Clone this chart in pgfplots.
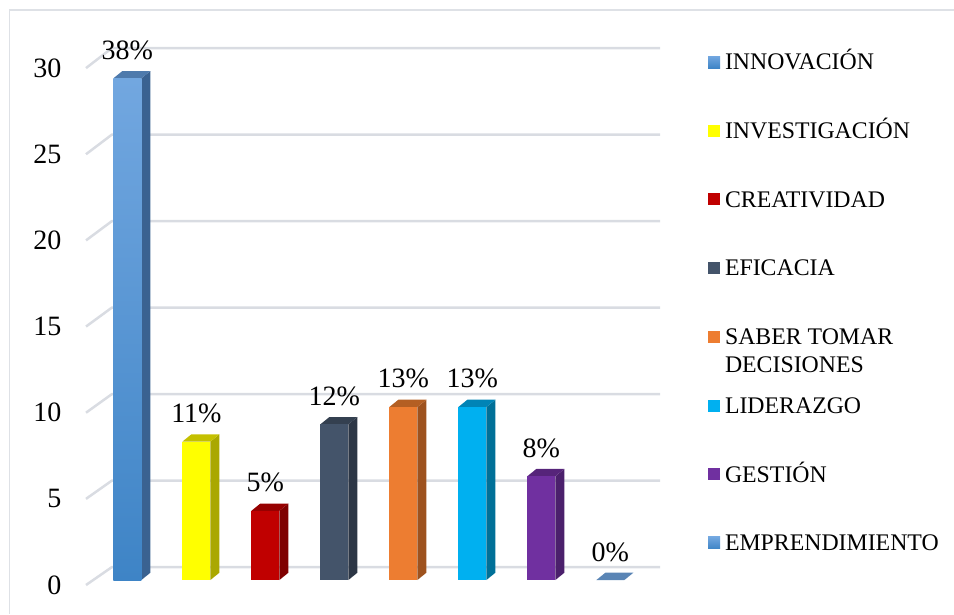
\documentclass[border=0pt]{standalone}
\usepackage{fontspec}
\setmainfont{Liberation Serif}
\usepackage{pgfplots}
\pgfplotsset{compat=1.18}
\definecolor{gridc}{RGB}{217,220,226}
\definecolor{bordc}{RGB}{222,225,230}
\definecolor{bluetop}{RGB}{114,167,224}
\definecolor{bluebot}{RGB}{62,132,198}
\definecolor{blueside}{RGB}{58,98,145}
\definecolor{bluecap}{RGB}{78,122,172}
\definecolor{ylw}{RGB}{255,255,0}
\definecolor{ylwside}{RGB}{170,168,0}
\definecolor{ylwcap}{RGB}{196,192,0}
\definecolor{rd}{RGB}{192,0,0}
\definecolor{rdside}{RGB}{127,0,0}
\definecolor{rdcap}{RGB}{150,0,0}
\definecolor{sl}{RGB}{68,84,106}
\definecolor{slside}{RGB}{44,54,69}
\definecolor{slcap}{RGB}{52,64,80}
\definecolor{org}{RGB}{237,125,49}
\definecolor{orgside}{RGB}{158,82,30}
\definecolor{orgcap}{RGB}{180,95,35}
\definecolor{cy}{RGB}{0,176,240}
\definecolor{cyside}{RGB}{0,112,152}
\definecolor{cycap}{RGB}{0,132,182}
\definecolor{pu}{RGB}{112,48,160}
\definecolor{puside}{RGB}{75,32,108}
\definecolor{pucap}{RGB}{86,36,122}
\definecolor{embcap}{RGB}{90,133,181}
\begin{document}
\begin{tikzpicture}
\useasboundingbox (0,0) rectangle (954pt,614pt);
\draw[bordc, line width=1.5pt] (9.5pt,0pt) -- (9.5pt,604pt) -- (954pt,604pt);
\begin{axis}[
  at={(86pt,16.7pt)}, anchor=south west,
  x=69pt, y=17.3pt,
  xmin=0.4, xmax=8.75, ymin=-1, ymax=31.5,
  clip=false,
  axis line style={draw=none},
  xtick=\empty,
  ytick={-0.29,4.69,9.67,14.65,19.63,24.61,29.59},
  yticklabels={0,5,10,15,20,25,30},
  ytick style={draw=none},
  major tick length=0pt,
  /pgf/number format/assume math mode=true,
  yticklabel style={font=\fontsize{28}{31}\selectfont, anchor=east, inner sep=0pt, xshift=-24.5pt},
  legend cell align=left,
  legend image code/.code={\fill[#1] (0pt,-4.2pt) rectangle (12pt,7.8pt);},
  legend style={at={(1.0796,0.9684)}, anchor=north west, draw=none, fill=none,
    inner sep=0pt, outer sep=0pt, row sep=46.7pt, column sep=5pt,
    font=\fontsize{23.8}{27.7}\selectfont,
    nodes={inner sep=0pt, text height=17pt, text depth=5pt, anchor=west}},
]
% back-wall gridlines with floor diagonals
\addplot[gridc, line width=2.5pt, line join=round, forget plot] coordinates {(0.4,-0.29) (0.777,0.75) (8.72,0.75)};
\addplot[gridc, line width=2.5pt, line join=round, forget plot] coordinates {(0.4,4.69) (0.777,5.75) (8.72,5.75)};
\addplot[gridc, line width=2.5pt, line join=round, forget plot] coordinates {(0.4,9.67) (0.777,10.75) (8.72,10.75)};
\addplot[gridc, line width=2.5pt, line join=round, forget plot] coordinates {(0.4,14.65) (0.777,15.75) (8.72,15.75)};
\addplot[gridc, line width=2.5pt, line join=round, forget plot] coordinates {(0.4,19.63) (0.777,20.75) (8.72,20.75)};
\addplot[gridc, line width=2.5pt, line join=round, forget plot] coordinates {(0.4,24.61) (0.777,25.75) (8.72,25.75)};
\addplot[gridc, line width=2.5pt, line join=round, forget plot] coordinates {(0.4,29.59) (0.777,30.75) (8.72,30.75)};
% 1 INNOVACION (29)
\addplot[fill=blueside, draw=none, forget plot] coordinates {(1.203,0) (1.333,0.42) (1.333,29.42) (1.203,29)};
\addplot[fill=bluecap, draw=none, forget plot] coordinates {(0.797,29) (1.203,29) (1.333,29.42) (0.927,29.42)};
\addplot[top color=bluetop, bottom color=bluebot, draw=none] coordinates {(0.797,0) (1.203,0) (1.203,29) (0.797,29)};
\addlegendentry{INNOVACIÓN}
% 2 INVESTIGACION (8)
\addplot[fill=ylwside, draw=none, forget plot] coordinates {(2.203,0) (2.333,0.42) (2.333,8.42) (2.203,8)};
\addplot[fill=ylwcap, draw=none, forget plot] coordinates {(1.797,8) (2.203,8) (2.333,8.42) (1.927,8.42)};
\addplot[fill=ylw, draw=none] coordinates {(1.797,0) (2.203,0) (2.203,8) (1.797,8)};
\addlegendentry{INVESTIGACIÓN}
% 3 CREATIVIDAD (4)
\addplot[fill=rdside, draw=none, forget plot] coordinates {(3.203,0) (3.333,0.42) (3.333,4.42) (3.203,4)};
\addplot[fill=rdcap, draw=none, forget plot] coordinates {(2.797,4) (3.203,4) (3.333,4.42) (2.927,4.42)};
\addplot[fill=rd, draw=none] coordinates {(2.797,0) (3.203,0) (3.203,4) (2.797,4)};
\addlegendentry{CREATIVIDAD}
% 4 EFICACIA (9)
\addplot[fill=slside, draw=none, forget plot] coordinates {(4.203,0) (4.333,0.42) (4.333,9.42) (4.203,9)};
\addplot[fill=slcap, draw=none, forget plot] coordinates {(3.797,9) (4.203,9) (4.333,9.42) (3.927,9.42)};
\addplot[fill=sl, draw=none] coordinates {(3.797,0) (4.203,0) (4.203,9) (3.797,9)};
\addlegendentry{EFICACIA}
% 5 SABER TOMAR DECISIONES (10)
\addplot[fill=orgside, draw=none, forget plot] coordinates {(5.203,0) (5.333,0.42) (5.333,10.42) (5.203,10)};
\addplot[fill=orgcap, draw=none, forget plot] coordinates {(4.797,10) (5.203,10) (5.333,10.42) (4.927,10.42)};
\addplot[fill=org, draw=none] coordinates {(4.797,0) (5.203,0) (5.203,10) (4.797,10)};
\addlegendentry{\begin{tabular}[t]{@{}l@{}}SABER TOMAR\\DECISIONES\end{tabular}}
% 6 LIDERAZGO (10)
\addplot[fill=cyside, draw=none, forget plot] coordinates {(6.203,0) (6.333,0.42) (6.333,10.42) (6.203,10)};
\addplot[fill=cycap, draw=none, forget plot] coordinates {(5.797,10) (6.203,10) (6.333,10.42) (5.927,10.42)};
\addplot[fill=cy, draw=none] coordinates {(5.797,0) (6.203,0) (6.203,10) (5.797,10)};
\addlegendentry{LIDERAZGO}
% 7 GESTION (6)
\addplot[fill=puside, draw=none, forget plot] coordinates {(7.203,0) (7.333,0.42) (7.333,6.42) (7.203,6)};
\addplot[fill=pucap, draw=none, forget plot] coordinates {(6.797,6) (7.203,6) (7.333,6.42) (6.927,6.42)};
\addplot[fill=pu, draw=none] coordinates {(6.797,0) (7.203,0) (7.203,6) (6.797,6)};
\addlegendentry{GESTIÓN}
% 8 EMPRENDIMIENTO (0)
\addplot[fill=embcap, draw=none, forget plot] coordinates {(7.797,0) (8.203,0) (8.333,0.42) (7.927,0.42)};
\addplot[top color=bluetop, bottom color=bluebot, draw=none] coordinates {(7.797,0) (8.203,0) (8.203,0) (7.797,0)};
\addlegendentry{EMPRENDIMIENTO}
% data labels
\addplot[draw=none, mark=none, forget plot, nodes near coords, point meta=explicit symbolic,
  nodes near coords style={anchor=base, yshift=19pt, inner sep=0pt, font=\fontsize{28}{31}\selectfont}]
  coordinates {(1,29) [38\%] (2,8) [11\%] (3,4) [5\%] (4,9) [12\%] (5,10) [13\%] (6,10) [13\%] (7,6) [8\%] (8,0) [0\%]};
\end{axis}
\end{tikzpicture}
\end{document}
